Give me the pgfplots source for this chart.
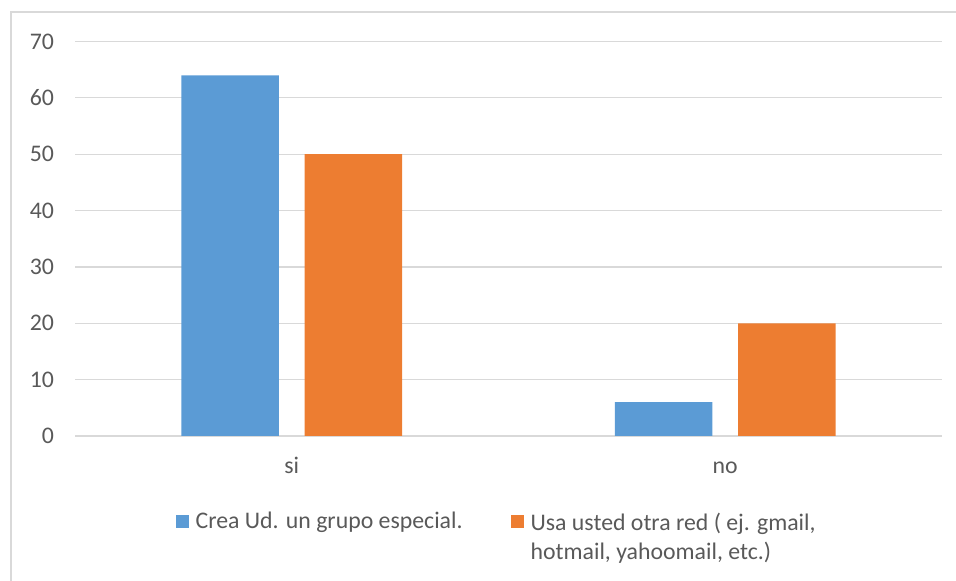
\documentclass[border=0pt]{standalone}
\usepackage{fontspec}
\setmainfont{Carlito}
\usepackage{pgfplots}
\pgfplotsset{compat=1.18}
\definecolor{cblue}{HTML}{5B9BD5}
\definecolor{corange}{HTML}{ED7D31}
\definecolor{cgrid}{HTML}{D9D9D9}
\definecolor{ctext}{HTML}{595959}
\begin{document}
\begin{tikzpicture}
\useasboundingbox (0,0) rectangle (478pt,290.5pt);
\draw[cgrid,line width=0.7pt] (5.5pt,-1pt) -- (5.5pt,284.5pt) -- (479pt,284.5pt);
\begin{axis}[
  at={(37.5pt,72.5pt)}, anchor=south west,
  scale only axis, width=433.5pt, height=197.25pt,
  ybar, bar width=48.75pt,
  xmin=-0.5, xmax=1.5, ymin=0, ymax=70,
  xtick=data, xticklabels={si,no},
  ytick={0,10,...,70},
  ymajorgrids, grid style={cgrid,line width=0.6pt},
  axis line style={draw=none},
  major tick length=0pt,
  tick label style={font=\fontsize{11.9}{14.5}\selectfont, text=ctext},
  /pgf/number format/assume math mode=true,
  yticklabel style={xshift=-7pt},
  xticklabel style={anchor=base, yshift=-19pt},
  legend columns=2,
  legend style={draw=none, fill=none, at={(0.1087,-0.17)}, anchor=north west,
    font=\fontsize{11.9}{14.5}\selectfont, text=ctext,
    /tikz/every even column/.append style={column sep=22.5pt},
    nodes={inner sep=1.5pt}},
  sqleg/.style={legend image code/.code={\fill[##1,draw=none] (0pt,-3pt) rectangle (6.5pt,3.5pt); \path (8.5pt,0pt);}},
]
\addplot[fill=cblue, draw=none, bar shift=-30.8pt, sqleg] coordinates {(0,64) (1,6)};
\addplot[fill=corange, draw=none, bar shift=30.8pt, sqleg] coordinates {(0,50) (1,20)};
\legend{Crea Ud. un grupo especial., {\begin{tabular}[t]{@{}l@{}}Usa usted otra red ( ej. gmail,\\hotmail, yahoomail, etc.)\end{tabular}}}
\end{axis}
\end{tikzpicture}
\end{document}
